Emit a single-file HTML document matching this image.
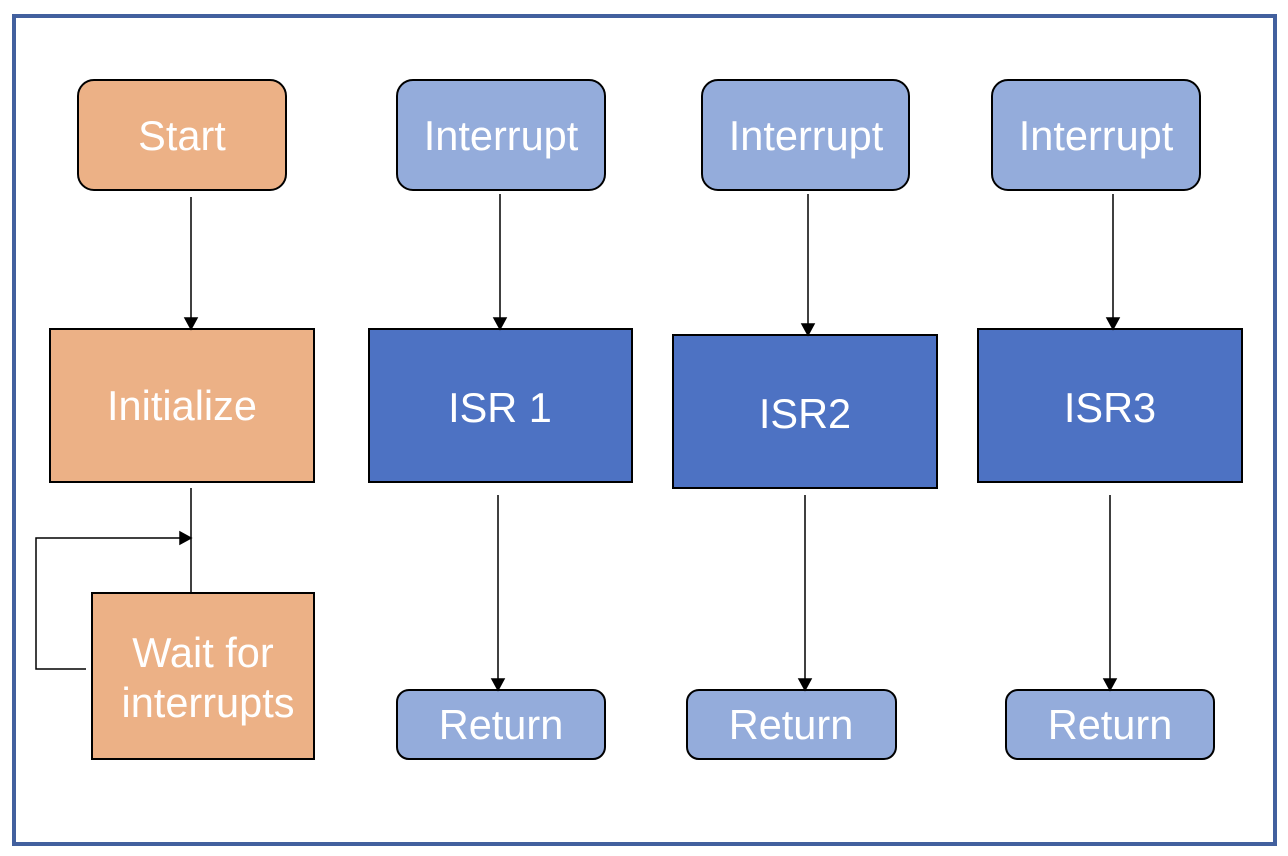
<!DOCTYPE html>
<html><head><meta charset="utf-8"><style>
html,body{margin:0;padding:0;background:#fff;}
svg{display:block;}
text{font-family:"Liberation Sans",Arial,sans-serif;font-size:41.5px;fill:#fff;text-anchor:middle;}
</style></head><body>
<svg width="1288" height="856" viewBox="0 0 1288 856" xmlns="http://www.w3.org/2000/svg">
<rect x="14" y="16" width="1261" height="828" fill="#fff" stroke="#42609e" stroke-width="4"/>
<g stroke="#000" stroke-width="2">
<rect x="78" y="80" width="208" height="110" rx="16" fill="#ecb186"/>
<rect x="50" y="329" width="264" height="153" fill="#ecb186"/>
<rect x="92" y="593" width="222" height="166" fill="#ecb186"/>
<rect x="397" y="80" width="208" height="110" rx="16" fill="#94acdb"/>
<rect x="702" y="80" width="207" height="110" rx="16" fill="#94acdb"/>
<rect x="992" y="80" width="208" height="110" rx="16" fill="#94acdb"/>
<rect x="369" y="329" width="263" height="153" fill="#4d72c3"/>
<rect x="673" y="335" width="264" height="153" fill="#4d72c3"/>
<rect x="978" y="329" width="264" height="153" fill="#4d72c3"/>
<rect x="397" y="690" width="208" height="69" rx="12" fill="#94acdb"/>
<rect x="687" y="690" width="209" height="69" rx="12" fill="#94acdb"/>
<rect x="1006" y="690" width="208" height="69" rx="12" fill="#94acdb"/>
</g>
<g stroke="#000" stroke-width="1.5" fill="none">
<line x1="191" y1="197" x2="191" y2="329"/>
<path d="M191,329 l-6,-11 h12z" fill="#000"/>
<line x1="500" y1="194" x2="500" y2="329"/>
<path d="M500,329 l-6,-11 h12z" fill="#000"/>
<line x1="808" y1="194" x2="808" y2="335"/>
<path d="M808,335 l-6,-11 h12z" fill="#000"/>
<line x1="1113" y1="194" x2="1113" y2="329"/>
<path d="M1113,329 l-6,-11 h12z" fill="#000"/>
<line x1="191" y1="488" x2="191" y2="593"/>
<path d="M86,669 H36 V538 H180"/>
<path d="M191,538 l-11,-6 v12z" fill="#000"/>
<line x1="498" y1="495" x2="498" y2="690"/>
<path d="M498,690 l-6,-11 h12z" fill="#000"/>
<line x1="805" y1="495" x2="805" y2="690"/>
<path d="M805,690 l-6,-11 h12z" fill="#000"/>
<line x1="1110" y1="495" x2="1110" y2="690"/>
<path d="M1110,690 l-6,-11 h12z" fill="#000"/>
</g>
<text x="182" y="150">Start</text>
<text x="182" y="420">Initialize</text>
<text x="203" y="667">Wait for</text>
<text x="208" y="717">interrupts</text>
<text x="501" y="150">Interrupt</text>
<text x="806" y="150">Interrupt</text>
<text x="1096" y="150">Interrupt</text>
<text x="500" y="422">ISR 1</text>
<text x="805" y="428">ISR2</text>
<text x="1110" y="422">ISR3</text>
<text x="501" y="739">Return</text>
<text x="791" y="739">Return</text>
<text x="1110" y="739">Return</text>
</svg>
</body></html>
